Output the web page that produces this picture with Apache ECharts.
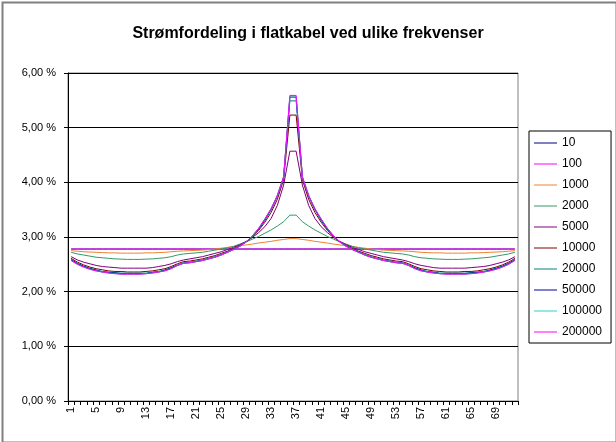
<!DOCTYPE html>
<html>
<head>
<meta charset="utf-8">
<script src="https://cdn.jsdelivr.net/npm/echarts@6/dist/echarts.min.js"></script>
<style>
html,body{margin:0;padding:0;background:#fff;}
#chart{width:616px;height:442px;}
</style>
</head>
<body>
<div id="chart"></div>
<script>
const categories = [1,2,3,4,5,6,7,8,9,10,11,12,13,14,15,16,17,18,19,20,21,22,23,24,25,26,27,28,29,30,31,32,33,34,35,36,
  37,38,39,40,41,42,43,44,45,46,47,48,49,50,51,52,53,54,55,56,57,58,59,60,61,62,63,64,65,66,67,68,69,70,71,72];

const seriesNames = ['10','100','1000','2000','5000','10000','20000','50000','100000','200000'];

const s10 = [2.78,2.78,2.78,2.78,2.78,2.78,2.78,2.78,2.78,2.78,2.78,2.78,2.78,2.78,2.78,2.78,2.78,2.78,2.78,2.78,2.78,2.78,2.78,2.78,2.78,2.78,2.78,2.78,2.78,2.78,2.78,2.78,2.78,2.78,2.78,2.78,
  2.78,2.78,2.78,2.78,2.78,2.78,2.78,2.78,2.78,2.78,2.78,2.78,2.78,2.78,2.78,2.78,2.78,2.78,2.78,2.78,2.78,2.78,2.78,2.78,2.78,2.78,2.78,2.78,2.78,2.78,2.78,2.78,2.78,2.78,2.78,2.78];
const s100 = [2.78,2.78,2.78,2.78,2.78,2.78,2.78,2.78,2.78,2.78,2.78,2.78,2.78,2.78,2.78,2.78,2.78,2.78,2.78,2.78,2.78,2.78,2.78,2.78,2.78,2.78,2.78,2.78,2.78,2.78,2.78,2.78,2.78,2.78,2.78,2.78,
  2.78,2.78,2.78,2.78,2.78,2.78,2.78,2.78,2.78,2.78,2.78,2.78,2.78,2.78,2.78,2.78,2.78,2.78,2.78,2.78,2.78,2.78,2.78,2.78,2.78,2.78,2.78,2.78,2.78,2.78,2.78,2.78,2.78,2.78,2.78,2.78];
const s1000 = [2.75,2.74,2.73,2.725,2.72,2.715,2.71,2.71,2.705,2.705,2.705,2.705,2.71,2.71,2.715,2.72,2.73,2.74,2.745,2.75,2.755,2.76,2.77,2.78,2.795,2.81,2.825,2.84,2.855,2.87,2.89,2.905,2.92,2.94,2.955,2.97,
  2.97,2.955,2.94,2.92,2.905,2.89,2.87,2.855,2.84,2.825,2.81,2.795,2.78,2.77,2.76,2.755,2.75,2.745,2.74,2.73,2.72,2.715,2.71,2.71,2.705,2.705,2.705,2.705,2.71,2.71,2.715,2.72,2.725,2.73,2.74,2.75];
const s2000 = [2.72,2.69,2.67,2.65,2.63,2.62,2.61,2.60,2.595,2.59,2.59,2.59,2.595,2.60,2.61,2.62,2.64,2.67,2.69,2.70,2.71,2.72,2.74,2.76,2.78,2.80,2.83,2.87,2.91,2.96,3.01,3.07,3.13,3.20,3.28,3.40,
  3.40,3.28,3.20,3.13,3.07,3.01,2.96,2.91,2.87,2.83,2.80,2.78,2.76,2.74,2.72,2.71,2.70,2.69,2.67,2.64,2.62,2.61,2.60,2.595,2.59,2.59,2.59,2.595,2.60,2.61,2.62,2.63,2.65,2.67,2.69,2.72];
const s5000 = [2.64,2.58,2.54,2.51,2.48,2.46,2.45,2.44,2.43,2.43,2.43,2.43,2.43,2.44,2.46,2.48,2.51,2.55,2.58,2.60,2.62,2.64,2.67,2.70,2.73,2.77,2.81,2.86,2.92,2.99,3.08,3.19,3.34,3.58,3.95,4.57,
  4.57,3.95,3.58,3.34,3.19,3.08,2.99,2.92,2.86,2.81,2.77,2.73,2.70,2.67,2.64,2.62,2.60,2.58,2.55,2.51,2.48,2.46,2.44,2.43,2.43,2.43,2.43,2.43,2.44,2.45,2.46,2.48,2.51,2.54,2.58,2.64];
const s10000 = [2.61,2.54,2.49,2.45,2.42,2.40,2.38,2.37,2.37,2.36,2.36,2.36,2.37,2.38,2.40,2.42,2.46,2.51,2.55,2.56,2.58,2.60,2.63,2.66,2.70,2.74,2.79,2.84,2.91,3.00,3.12,3.27,3.45,3.69,4.05,5.23,
  5.23,4.05,3.69,3.45,3.27,3.12,3.00,2.91,2.84,2.79,2.74,2.70,2.66,2.63,2.60,2.58,2.56,2.55,2.51,2.46,2.42,2.40,2.38,2.37,2.36,2.36,2.36,2.37,2.37,2.38,2.40,2.42,2.45,2.49,2.54,2.61];
const s20000 = [2.59,2.52,2.47,2.43,2.40,2.37,2.36,2.35,2.34,2.34,2.34,2.34,2.34,2.36,2.37,2.40,2.44,2.49,2.53,2.54,2.56,2.58,2.61,2.64,2.68,2.73,2.78,2.84,2.91,3.01,3.14,3.30,3.50,3.74,4.09,5.49,
  5.49,4.09,3.74,3.50,3.30,3.14,3.01,2.91,2.84,2.78,2.73,2.68,2.64,2.61,2.58,2.56,2.54,2.53,2.49,2.44,2.40,2.37,2.36,2.34,2.34,2.34,2.34,2.34,2.35,2.36,2.37,2.40,2.43,2.47,2.52,2.59];
const s50000 = [2.58,2.51,2.46,2.42,2.39,2.36,2.35,2.34,2.33,2.33,2.33,2.33,2.33,2.35,2.36,2.39,2.43,2.48,2.52,2.53,2.55,2.57,2.60,2.63,2.67,2.72,2.77,2.83,2.91,3.02,3.15,3.32,3.51,3.76,4.10,5.56,
  5.56,4.10,3.76,3.51,3.32,3.15,3.02,2.91,2.83,2.77,2.72,2.67,2.63,2.60,2.57,2.55,2.53,2.52,2.48,2.43,2.39,2.36,2.35,2.33,2.33,2.33,2.33,2.33,2.34,2.35,2.36,2.39,2.42,2.46,2.51,2.58];
const s100000 = [2.57,2.50,2.45,2.41,2.38,2.36,2.34,2.33,2.32,2.32,2.32,2.32,2.33,2.34,2.36,2.38,2.42,2.48,2.52,2.53,2.55,2.57,2.60,2.63,2.67,2.72,2.77,2.83,2.91,3.02,3.16,3.33,3.52,3.76,4.10,5.58,
  5.58,4.10,3.76,3.52,3.33,3.16,3.02,2.91,2.83,2.77,2.72,2.67,2.63,2.60,2.57,2.55,2.53,2.52,2.48,2.42,2.38,2.36,2.34,2.33,2.32,2.32,2.32,2.32,2.33,2.34,2.36,2.38,2.41,2.45,2.50,2.57];
const s200000 = [2.57,2.50,2.45,2.41,2.38,2.36,2.34,2.33,2.32,2.32,2.32,2.32,2.33,2.34,2.36,2.38,2.42,2.48,2.52,2.53,2.55,2.57,2.60,2.63,2.67,2.72,2.77,2.83,2.91,3.02,3.16,3.33,3.52,3.76,4.10,5.59,
  5.59,4.10,3.76,3.52,3.33,3.16,3.02,2.91,2.83,2.77,2.72,2.67,2.63,2.60,2.57,2.55,2.53,2.52,2.48,2.42,2.38,2.36,2.34,2.33,2.32,2.32,2.32,2.32,2.33,2.34,2.36,2.38,2.41,2.45,2.50,2.57];

const seriesData = [s10, s100, s1000, s2000, s5000, s10000, s20000, s50000, s100000, s200000];
const colors = ['#000080','#FF00FF','#F08030','#339966','#800080','#800000','#008080','#0000A0','#33CCCC','#FF00FF'];

const FONT = "'Liberation Sans', Arial, sans-serif";
const chart = echarts.init(document.getElementById('chart'), null, {renderer: 'canvas'});

chart.setOption({
  animation: false,
  backgroundColor: '#ffffff',
  color: colors,
  textStyle: {fontFamily: FONT},
  graphic: [{
    type: 'rect', left: 0, top: 0, z: 100, silent: true,
    shape: {x: 0, y: 0, width: 614, height: 440},
    style: {fill: 'none', stroke: '#808080', lineWidth: 2}
  }],
  title: {
    text: 'Strømfordeling i flatkabel ved ulike frekvenser',
    left: 'center', top: 25, padding: 0,
    textStyle: {fontFamily: FONT, fontSize: 16, fontWeight: 'bold', color: '#000', lineHeight: 18}
  },
  legend: {
    orient: 'vertical', left: 529, top: 131,
    borderColor: '#000', borderWidth: 1, padding: [5, 9, 4, 5],
    itemGap: 7, itemWidth: 23, itemHeight: 1, icon: 'rect',
    textStyle: {fontFamily: FONT, fontSize: 12, color: '#000', lineHeight: 14, height: 14},
    data: seriesNames.map(n => ({name: n, icon: 'rect'}))
  },
  grid: {
    left: 68, top: 73, width: 450, height: 328,
    show: true, borderColor: '#808080', borderWidth: 1, backgroundColor: '#fff',
    containLabel: false
  },
  xAxis: {
    type: 'category', data: categories, boundaryGap: true,
    axisLine: {lineStyle: {color: '#000', width: 1}},
    axisTick: {show: true, interval: 0, length: 4, lineStyle: {color: '#000'}},
    axisLabel: {interval: 3, rotate: 90, margin: 6, fontSize: 11, color: '#000', fontFamily: FONT},
    splitLine: {show: false}
  },
  yAxis: {
    type: 'value', min: 0, max: 6, interval: 1,
    axisLine: {show: true, lineStyle: {color: '#000', width: 1}},
    axisTick: {show: true, length: 4, lineStyle: {color: '#000'}},
    axisLabel: {fontSize: 11, color: '#000', margin: 12, fontFamily: FONT,
      formatter: v => v.toFixed(2).replace('.', ',') + ' %'},
    splitLine: {show: true, lineStyle: {color: '#000', width: 1}}
  },
  series: seriesNames.map((name, i) => ({
    name: name, type: 'line', data: seriesData[i],
    symbol: 'none', showSymbol: false,
    lineStyle: {width: 1, color: colors[i]},
    itemStyle: {color: colors[i]}
  }))
});
</script>
</body>
</html>
